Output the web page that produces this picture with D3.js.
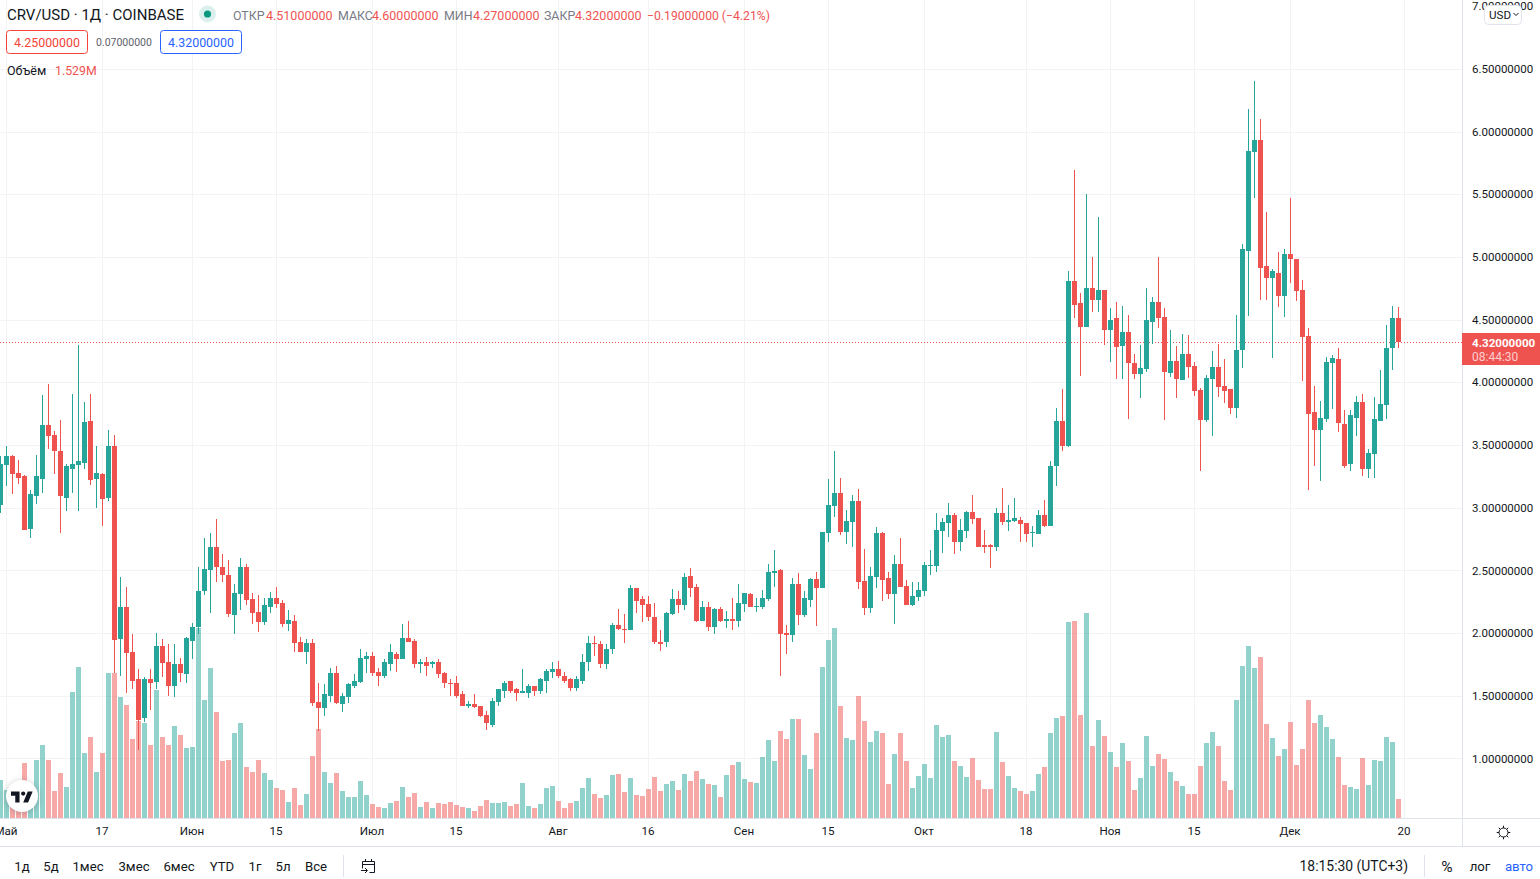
<!DOCTYPE html>
<html lang="ru">
<head>
<meta charset="utf-8">
<title>CRV/USD</title>
<script src="https://cdn.jsdelivr.net/npm/d3@7"></script>
<style>
  html, body { margin: 0; padding: 0; background: #fff; overflow: hidden; }
  svg { display: block; }
  text { font-family: Roboto, "Noto Sans", sans-serif; fill: #131722; }
</style>
</head>
<body>
<svg id="chart" width="1540" height="879"></svg>
<script>
// Daily candles, oldest first
const opens = [
  3.02,3.34,3.415,3.28,3.25,2.83,3.09,3.23,3.66,3.58,
  3.455,3.08,3.31,3.34,3.36,3.69,3.225,3.27,3.08,3.495,
  1.955,2.21,1.85,1.63,1.32,1.63,1.61,1.90,1.765,1.58,
  1.75,1.67,1.94,2.05,2.335,2.50,2.69,2.53,2.46,2.145,
  2.31,2.525,2.27,2.17,2.09,2.21,2.28,2.24,2.07,2.10,
  1.93,1.85,1.92,1.45,1.40,1.50,1.685,1.43,1.49,1.58,
  1.61,1.79,1.82,1.69,1.66,1.75,1.835,1.79,1.96,1.94,
  1.75,1.77,1.75,1.765,1.68,1.605,1.605,1.51,1.415,1.43,
  1.415,1.345,1.27,1.45,1.54,1.615,1.55,1.52,1.525,1.575,
  1.54,1.62,1.69,1.71,1.66,1.63,1.565,1.62,1.765,1.92,
  1.915,1.755,1.87,2.065,2.035,2.025,2.36,2.27,2.23,2.13,
  1.93,1.925,2.155,2.27,2.225,2.455,2.37,2.10,2.21,2.05,
  2.195,2.10,2.115,2.10,2.235,2.31,2.205,2.21,2.27,2.48,
  2.50,2.0,1.985,2.39,2.145,2.265,2.43,2.36,2.795,3.01,
  3.115,2.805,2.885,3.05,2.415,2.20,2.445,2.795,2.44,2.31,
  2.55,2.375,2.225,2.29,2.335,2.535,2.535,2.81,2.875,2.945,
  2.73,2.81,2.963,2.915,2.70,2.70,2.685,2.96,2.885,2.89,
  2.905,2.875,2.795,2.79,2.945,2.85,3.335,3.69,3.495,4.805,
  4.63,4.44,4.755,4.66,4.74,4.415,4.51,4.29,4.40,4.155,
  4.065,4.105,4.485,4.64,4.52,4.075,4.17,4.02,4.225,4.13,
  3.94,3.70,4.025,4.12,3.97,3.95,3.795,4.255,5.05,5.835,
  5.93,4.925,4.83,4.875,4.685,5.025,4.985,4.74,4.37,3.765,
  3.62,3.71,4.155,4.185,3.67,3.345,3.715,3.845,3.31,3.425,
  3.695,3.82,4.27,4.51
];
const highs = [
  3.41,3.495,3.42,3.38,3.26,3.14,3.42,3.90,3.99,3.61,
  3.70,3.35,3.91,4.30,3.84,3.91,3.495,3.28,3.62,3.58,
  2.45,2.37,1.99,1.71,1.65,1.71,2.0,1.95,1.91,1.91,
  1.80,1.97,2.08,2.53,2.76,2.80,2.91,2.63,2.58,2.39,
  2.60,2.55,2.32,2.30,2.28,2.33,2.37,2.265,2.18,2.14,
  1.97,1.95,1.95,1.60,1.59,1.725,1.74,1.52,1.605,1.67,
  1.87,1.85,1.85,1.725,1.79,1.91,1.845,2.07,2.10,1.955,
  1.795,1.81,1.78,1.79,1.69,1.63,1.655,1.54,1.46,1.51,
  1.42,1.375,1.48,1.55,1.62,1.62,1.56,1.71,1.59,1.58,
  1.64,1.71,1.765,1.78,1.69,1.64,1.655,1.83,1.98,1.98,
  1.94,1.91,2.08,2.19,2.155,2.385,2.36,2.295,2.295,2.24,
  2.025,2.17,2.35,2.335,2.48,2.52,2.39,2.255,2.25,2.20,
  2.21,2.175,2.28,2.39,2.32,2.32,2.28,2.345,2.55,2.66,
  2.51,2.065,2.44,2.48,2.335,2.44,2.485,2.805,3.23,3.45,
  3.24,2.98,3.10,3.145,2.67,2.525,2.845,2.805,2.485,2.62,
  2.755,2.425,2.405,2.405,2.565,2.66,2.96,2.915,3.04,2.955,
  2.91,2.97,3.10,2.915,2.82,2.71,3.0,3.16,3.02,3.08,
  2.925,2.875,2.85,2.98,3.065,3.375,3.795,3.945,4.885,5.69,
  4.715,5.50,5.0,5.32,4.74,4.59,4.64,4.605,4.535,4.225,
  4.30,4.75,4.68,5.0,4.59,4.42,4.29,4.385,4.375,4.16,
  3.955,4.06,4.25,4.305,4.185,3.95,4.535,5.10,6.18,6.40,
  6.10,5.36,4.90,5.04,5.065,5.47,4.985,4.82,4.43,3.97,
  3.85,4.20,4.215,4.27,3.78,3.78,3.89,3.91,3.47,3.885,
  4.10,4.455,4.61,4.60
];
const lows = [
  2.96,3.17,3.11,3.19,2.82,2.76,3.03,3.12,3.47,3.27,
  2.80,2.97,3.12,2.97,3.31,3.18,3.0,2.85,3.05,1.68,
  1.66,1.52,1.55,1.07,1.29,1.39,1.55,1.65,1.50,1.49,
  1.61,1.605,1.79,1.995,2.30,2.16,2.41,2.41,2.13,1.99,
  2.18,2.22,2.07,2.01,2.065,2.16,2.20,2.05,2.02,1.85,
  1.85,1.75,1.42,1.22,1.34,1.45,1.43,1.37,1.44,1.56,
  1.605,1.68,1.655,1.575,1.64,1.70,1.69,1.79,1.93,1.72,
  1.68,1.66,1.72,1.64,1.565,1.50,1.485,1.415,1.40,1.40,
  1.33,1.225,1.25,1.415,1.48,1.52,1.46,1.52,1.48,1.50,
  1.51,1.525,1.645,1.64,1.605,1.535,1.535,1.59,1.70,1.82,
  1.725,1.71,1.83,2.025,1.92,2.025,2.16,2.09,2.10,1.915,
  1.86,1.885,2.14,2.16,2.185,2.29,2.09,2.10,2.02,1.995,
  2.09,2.04,2.025,2.05,2.17,2.21,2.17,2.195,2.255,2.37,
  1.66,1.83,1.925,2.065,2.13,2.21,2.06,2.36,2.725,2.925,
  2.78,2.71,2.685,2.35,2.14,2.16,2.36,2.255,2.27,2.075,
  2.37,2.225,2.215,2.255,2.295,2.465,2.485,2.64,2.765,2.63,
  2.655,2.755,2.87,2.685,2.635,2.52,2.655,2.86,2.81,2.885,
  2.73,2.725,2.685,2.79,2.845,2.85,3.175,3.455,3.485,4.51,
  4.05,4.44,4.56,4.56,4.30,4.16,4.03,4.03,3.71,4.03,
  3.875,4.08,4.305,4.43,3.70,4.04,3.875,4.02,4.035,3.89,
  3.295,3.685,3.575,3.885,3.835,3.75,3.715,4.115,4.525,5.47,
  4.655,4.66,4.195,4.60,4.52,4.795,4.645,4.01,3.14,3.335,
  3.215,3.68,3.79,3.605,3.32,3.295,3.575,3.255,3.235,3.235,
  3.695,3.71,4.10,4.27
];
const closes = [
  3.35,3.415,3.27,3.24,2.82,3.11,3.25,3.66,3.57,3.45,
  3.09,3.33,3.35,3.37,3.685,3.22,3.28,3.07,3.495,1.945,
  2.21,1.84,1.62,1.31,1.63,1.605,1.90,1.76,1.58,1.75,
  1.68,1.96,2.05,2.335,2.51,2.685,2.53,2.46,2.15,2.32,
  2.53,2.26,2.16,2.09,2.22,2.28,2.235,2.07,2.105,1.92,
  1.85,1.92,1.44,1.40,1.51,1.68,1.44,1.495,1.59,1.62,
  1.80,1.82,1.685,1.655,1.765,1.845,1.79,1.96,1.93,1.75,
  1.765,1.74,1.765,1.67,1.60,1.59,1.495,1.415,1.43,1.41,
  1.335,1.28,1.455,1.55,1.605,1.54,1.52,1.535,1.575,1.54,
  1.63,1.70,1.71,1.655,1.62,1.565,1.63,1.77,1.92,1.91,
  1.755,1.875,2.065,2.035,2.025,2.36,2.255,2.225,2.13,1.925,
  1.915,2.16,2.27,2.225,2.45,2.36,2.10,2.21,2.05,2.195,
  2.10,2.115,2.10,2.24,2.32,2.21,2.215,2.28,2.485,2.495,
  1.995,1.985,2.39,2.145,2.28,2.43,2.36,2.805,3.02,3.115,
  2.805,2.89,3.05,2.41,2.20,2.455,2.795,2.425,2.31,2.55,
  2.37,2.225,2.295,2.345,2.54,2.54,2.82,2.885,2.945,2.73,
  2.82,2.963,2.907,2.69,2.69,2.685,2.96,2.885,2.90,2.915,
  2.87,2.79,2.805,2.94,2.85,3.335,3.69,3.495,4.805,4.62,
  4.44,4.75,4.66,4.74,4.415,4.50,4.28,4.40,4.155,4.065,
  4.115,4.495,4.64,4.51,4.08,4.17,4.03,4.225,4.12,3.93,
  3.70,4.035,4.12,3.965,3.93,3.795,4.255,5.06,5.845,5.93,
  4.915,4.83,4.885,4.685,5.025,4.98,4.73,4.36,3.75,3.62,
  3.715,4.16,4.19,3.675,3.335,3.74,3.845,3.31,3.44,3.71,
  3.83,4.27,4.51,4.32
];
// Traded volume per day, in millions
const volumes = [
  3.06,2.25,1.61,1.61,4.42,1.72,4.66,5.87,4.66,2.17,
  3.62,2.49,10.13,12.14,5.23,6.51,3.70,5.23,11.66,11.66,
  9.73,9.09,6.35,7.83,7.61,5.87,10.29,6.51,5.87,7.40,
  6.67,5.63,5.71,15.28,9.49,12.06,8.52,4.58,4.66,6.83,
  7.64,4.10,3.70,4.66,3.62,3.06,2.41,2.25,1.29,2.41,
  1.05,1.93,4.98,7.16,3.70,2.81,3.62,2.17,1.69,1.69,
  2.97,1.85,1.13,0.88,0.80,1.21,1.37,2.49,1.69,2.01,
  0.88,1.29,0.80,1.21,1.13,1.29,1.05,0.88,0.80,0.56,
  0.97,1.45,1.21,1.21,1.29,0.97,1.13,2.81,0.97,0.80,
  1.13,2.41,2.57,1.37,0.80,1.21,1.37,2.41,3.22,1.93,
  1.61,1.85,3.46,3.54,2.09,3.22,1.85,1.77,2.33,3.30,
  2.17,2.73,2.97,2.25,3.54,2.97,3.78,3.14,2.73,2.65,
  1.69,3.46,4.26,4.50,3.14,2.89,2.81,4.90,6.27,4.58,
  6.99,6.35,7.96,7.96,5.07,3.94,6.83,12.14,14.31,15.28,
  9.00,6.43,6.27,9.81,7.80,6.11,6.99,6.83,2.73,5.15,
  6.83,4.58,2.41,3.38,4.34,3.22,7.48,6.51,6.67,4.58,
  4.18,3.30,4.82,3.06,2.33,2.33,6.91,4.50,3.38,2.41,
  2.17,1.93,2.17,3.54,4.10,6.83,8.04,8.20,15.76,15.84,
  8.28,16.48,5.79,7.88,6.59,5.31,4.10,6.03,4.58,2.25,
  3.22,6.59,4.18,5.15,4.74,3.70,2.97,2.57,1.93,1.93,
  4.18,6.03,6.91,5.79,2.97,2.25,9.49,12.22,13.83,12.06,
  12.94,7.56,6.43,4.98,5.55,7.72,4.26,5.55,9.49,7.64,
  8.28,7.32,6.35,4.90,2.65,2.49,2.33,4.82,2.65,4.66,
  4.58,6.51,6.11,1.529
];

const priceTicks = [1, 1.5, 2, 2.5, 3, 3.5, 4, 4.5, 5, 5.5, 6, 6.5, 7];
const timeTickIndex = [1, 17, 32, 46, 62, 76, 93, 108, 124, 138, 154, 171, 185, 199, 215, 234];
const timeTickLabels = ["Май", "17", "Июн", "15", "Июл", "15", "Авг", "16", "Сен", "15", "Окт", "18", "Ноя", "15", "Дек", "20"];
const rangeButtons = ["1д", "5д", "1мес", "3мес", "6мес", "YTD", "1г", "5л", "Все"];
const rangeCentres = [22, 51, 88, 134, 179, 222, 255, 283, 316];
const bidPrice = 4.25, askPrice = 4.32;
const clockText = "18:15:30 (UTC+3)";
const countdownText = "08:44:30";

const UP = "#26a69a", DOWN = "#ef5350", GRID = "#f2f3f5", EDGE = "#e0e3eb";
const W = 1540, H = 879, PANE_W = 1462, PANE_H = 818, AXIS_BOTTOM = 846;

const candles = closes.map((c, i) => ({
  i, o: opens[i], h: highs[i], l: lows[i], c, v: volumes[i], up: c >= opens[i]
}));

const x = d3.scaleLinear().domain([0, candles.length - 1]).range([0.5, 6 * (candles.length - 1) + 0.5]);
const y = d3.scaleLinear().domain([1, 6.5]).range([758.4, 68.9]);
const yVol = d3.scaleLinear().domain([0, 20]).range([PANE_H, PANE_H - 248.6]);
const px = d3.format(".8f");
const ry = v => Math.round(y(v));

const svg = d3.select("#chart");
svg.append("rect").attr("width", W).attr("height", H).attr("fill", "#fff");

// Grid
const grid = svg.append("g");
grid.selectAll("line.h").data(priceTicks.filter(t => t < 7)).join("line")
  .attr("x1", 0).attr("x2", PANE_W)
  .attr("y1", d => ry(d) + 0.5).attr("y2", d => ry(d) + 0.5)
  .attr("stroke", GRID);
grid.selectAll("line.v").data(timeTickIndex).join("line")
  .attr("x1", d => x(d)).attr("x2", d => x(d))
  .attr("y1", 0).attr("y2", PANE_H)
  .attr("stroke", GRID);

svg.append("clipPath").attr("id", "pane").append("rect")
  .attr("width", PANE_W).attr("height", PANE_H);
const pane = svg.append("g").attr("clip-path", "url(#pane)");

// Volume histogram sits under the candles
pane.append("g").selectAll("rect").data(candles).join("rect")
  .attr("x", d => x(d.i) - 2.5)
  .attr("width", 5)
  .attr("y", d => Math.round(yVol(d.v)))
  .attr("height", d => PANE_H - Math.round(yVol(d.v)))
  .attr("fill", d => d.up ? UP : DOWN)
  .attr("fill-opacity", 0.5);

// Last-price line
pane.append("line")
  .attr("x1", 0).attr("x2", PANE_W)
  .attr("y1", ry(closes[closes.length - 1]) + 0.5)
  .attr("y2", ry(closes[closes.length - 1]) + 0.5)
  .attr("stroke", DOWN).attr("stroke-dasharray", "1 2");

// Candles: wick, then body
const candleG = pane.append("g");
candleG.selectAll("rect.wick").data(candles).join("rect")
  .attr("class", "wick")
  .attr("x", d => x(d.i) - 0.5)
  .attr("width", 1)
  .attr("y", d => ry(d.h))
  .attr("height", d => ry(d.l) - ry(d.h))
  .attr("fill", d => d.up ? UP : DOWN);
candleG.selectAll("rect.body").data(candles).join("rect")
  .attr("class", "body")
  .attr("x", d => x(d.i) - 2.5)
  .attr("width", 5)
  .attr("y", d => ry(Math.max(d.o, d.c)))
  .attr("height", d => Math.max(1, ry(Math.min(d.o, d.c)) - ry(Math.max(d.o, d.c))))
  .attr("fill", d => d.up ? UP : DOWN);

// Pane and axis borders
const edges = [
  [PANE_W + 0.5, 0, PANE_W + 0.5, AXIS_BOTTOM],
  [0, PANE_H + 0.5, W, PANE_H + 0.5],
  [0, AXIS_BOTTOM + 0.5, W, AXIS_BOTTOM + 0.5]
];
svg.append("g").selectAll("line").data(edges).join("line")
  .attr("x1", d => d[0]).attr("y1", d => d[1])
  .attr("x2", d => d[2]).attr("y2", d => d[3])
  .attr("stroke", EDGE);

// Price axis
const priceAxis = svg.append("g")
  .attr("transform", `translate(${PANE_W},0)`)
  .call(d3.axisRight(y).tickValues(priceTicks).tickSize(0).tickPadding(10).tickFormat(px));
priceAxis.select(".domain").remove();
priceAxis.selectAll("text").style("font-family", "Roboto, sans-serif").style("font-size", "11.5px").attr("fill", "#131722");

// Time axis
const timeAxis = svg.append("g")
  .attr("transform", `translate(0,${PANE_H + 1})`)
  .call(d3.axisBottom(x).tickValues(timeTickIndex).tickSize(0).tickPadding(8)
    .tickFormat((d, i) => timeTickLabels[i]));
timeAxis.select(".domain").remove();
timeAxis.selectAll("text").style("font-family", "Roboto, sans-serif").style("font-size", "11.6px").attr("fill", "#131722")
  .attr("dx", -1);

// Last-price tag on the axis
const last = closes[closes.length - 1];
const tag = svg.append("g");
tag.append("rect").attr("x", PANE_W).attr("y", ry(last) - 9).attr("width", W - PANE_W).attr("height", 32)
  .attr("fill", DOWN);
tag.append("text").attr("x", PANE_W + 10).attr("y", ry(last) + 4.5)
  .style("fill", "#fff").style("font-size", "11.6px").style("font-weight", 700).text(px(last));
tag.append("text").attr("x", PANE_W + 10).attr("y", ry(last) + 18.5)
  .style("fill", "rgba(255,255,255,.72)").style("font-size", "12px").text(countdownText);

// Currency button over the top of the axis
const usd = svg.append("g");
usd.append("rect").attr("x", 1484.5).attr("y", 5.5).attr("width", 37).attr("height", 19).attr("rx", 4)
  .attr("fill", "#fff").attr("stroke", EDGE);
usd.append("text").attr("x", 1489).attr("y", 18.5).style("font-size", "11.6px").text("USD");
usd.append("path").attr("d", "M1513.5 13l2.5 2.5 2.5-2.5").attr("fill", "none").attr("stroke", "#131722").attr("stroke-width", 1);

// Gear in the corner of the axes
const gear = svg.append("g").attr("transform", "translate(1503.5,832.5)")
  .attr("fill", "none").attr("stroke", "#131722");
gear.append("circle").attr("r", 4.5);
gear.selectAll("line").data(d3.range(8)).join("line")
  .attr("x1", d => 4.5 * Math.cos(d * Math.PI / 4)).attr("y1", d => 4.5 * Math.sin(d * Math.PI / 4))
  .attr("x2", d => 6.8 * Math.cos(d * Math.PI / 4)).attr("y2", d => 6.8 * Math.sin(d * Math.PI / 4));

// Logo badge
const badge = svg.append("g");
badge.append("circle").attr("cx", 22).attr("cy", 796).attr("r", 16)
  .attr("fill", "#fff").style("filter", "drop-shadow(0 1px 3px rgba(19,23,34,.25))");
badge.append("path").attr("transform", "translate(11,789) scale(.61)")
  .attr("fill", "#131722")
  .attr("d", "M14 22H7V11H0V4h14v18zM28 22h-8l7.5-18h8L28 22z");
badge.append("circle").attr("cx", 23.2).attr("cy", 793.6).attr("r", 2.1).attr("fill", "#131722");

// Legend block
const legend = svg.append("g");
function label(x0, yy, str, size, fill, anchor) {
  return legend.append("text").attr("x", x0).attr("y", yy)
    .attr("text-anchor", anchor || "start")
    .style("font-size", size + "px").style("fill", fill).text(str);
}
const iLast = candles.length - 1;
const change = closes[iLast] - opens[iLast];
const minus = s => s.replace("-", "\u2212");
label(7, 20, "CRV/USD · 1Д · COINBASE", 15, "#131722");
legend.append("circle").attr("cx", 207.5).attr("cy", 14).attr("r", 8.5).attr("fill", "rgba(0,150,136,.14)");
legend.append("circle").attr("cx", 207.5).attr("cy", 14).attr("r", 3.6).attr("fill", "#089981");
const ohlcLabels = ["ОТКР", "МАКС", "МИН", "ЗАКР"];
const ohlcValues = [opens[iLast], highs[iLast], lows[iLast], closes[iLast]];
const ohlcX = [233, 338, 444, 544];
const ohlcValX = [266, 372, 473, 575];
ohlcLabels.forEach((s, i) => {
  label(ohlcX[i], 20, s, 12.4, "#787b86");
  label(ohlcValX[i], 20, px(ohlcValues[i]), 12.5, DOWN);
});
label(647, 20, minus(px(change)) + " (" + minus(d3.format(".2f")(change / opens[iLast] * 100)) + "%)", 12.2, DOWN);

legend.append("rect").attr("x", 6.5).attr("y", 30.5).attr("width", 81).attr("height", 23).attr("rx", 3)
  .attr("fill", "#fff").attr("stroke", "#f44336");
label(47, 47, px(bidPrice), 12.4, "#f44336", "middle");
label(96, 46, px(askPrice - bidPrice), 10.5, "#5d606b");
legend.append("rect").attr("x", 160.5).attr("y", 30.5).attr("width", 81).attr("height", 23).attr("rx", 3)
  .attr("fill", "#fff").attr("stroke", "#2962ff");
label(201, 47, px(askPrice), 12.4, "#2962ff", "middle");

label(7, 75, "Объём", 12.5, "#131722");
label(55, 75, d3.format(".3f")(volumes[iLast]) + "M", 12.3, DOWN);

// Bottom toolbar
const bar = svg.append("g");
bar.selectAll("text").data(rangeButtons).join("text")
  .attr("x", (d, i) => rangeCentres[i]).attr("y", 871).attr("text-anchor", "middle")
  .style("font-size", "13.2px").text(d => d);
bar.append("line").attr("x1", 343.5).attr("x2", 343.5).attr("y1", 855).attr("y2", 877).attr("stroke", EDGE);
bar.append("line").attr("x1", 1424.5).attr("x2", 1424.5).attr("y1", 855).attr("y2", 877).attr("stroke", EDGE);
const cal = bar.append("g").attr("transform", "translate(361,858)").attr("fill", "none").attr("stroke", "#131722");
cal.append("path").attr("d", "M1.5 3.5h12v11h-5M1.5 3.5v7M1.5 6.5h12M4.5 1v3M10.5 1v3");
cal.append("path").attr("d", "M0 12.5h6M4 10l2.5 2.5L4 15");
bar.append("text").attr("x", 1408).attr("y", 871).attr("text-anchor", "end").style("font-size", "13.9px").text(clockText);
bar.append("text").attr("x", 1447).attr("y", 872).attr("text-anchor", "middle").style("font-size", "15.5px").text("%");
bar.append("text").attr("x", 1480).attr("y", 871).attr("text-anchor", "middle").style("font-size", "13.2px").text("лог");
bar.append("text").attr("x", 1519).attr("y", 871).attr("text-anchor", "middle").style("font-size", "13.2px").style("fill", "#2962ff").text("авто");
</script>
</body>
</html>
